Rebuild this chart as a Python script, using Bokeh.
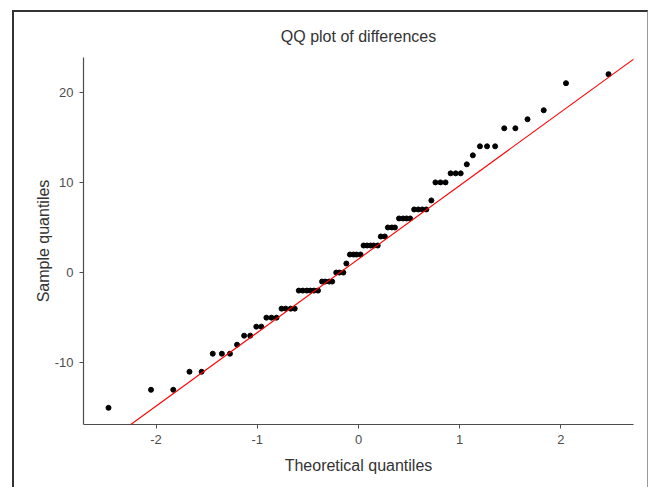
from bokeh.plotting import figure
from bokeh.models import Slope, FixedTicker, Range1d, PrintfTickFormatter, InlineStyleSheet
from bokeh.embed import file_html
from bokeh.resources import INLINE

# Theoretical normal quantiles
theoretical = [
    -2.47, -2.05, -1.83, -1.67, -1.55, -1.44, -1.35, -1.27, -1.20, -1.13,
    -1.07, -1.01, -0.96, -0.91, -0.86, -0.81, -0.76, -0.72, -0.67, -0.63,
    -0.59, -0.55, -0.51, -0.475, -0.44, -0.40, -0.36, -0.33, -0.29, -0.26,
    -0.22, -0.19, -0.15, -0.12, -0.085, -0.05, -0.02,
    0.02, 0.05, 0.085, 0.12, 0.15, 0.19, 0.22, 0.26, 0.29, 0.33,
    0.36, 0.40, 0.44, 0.475, 0.51, 0.55, 0.59, 0.63, 0.67, 0.72,
    0.76, 0.81, 0.86, 0.91, 0.96, 1.01, 1.07, 1.13, 1.20, 1.27,
    1.35, 1.44, 1.55, 1.67, 1.83, 2.05, 2.47,
]
# Sorted sample differences
sample = [
    -15, -13, -13, -11, -11, -9, -9, -9, -8, -7,
    -7, -6, -6, -5, -5, -5, -4, -4, -4, -4,
    -2, -2, -2, -2, -2, -2, -1, -1, -1, -1,
    0, 0, 0, 1, 2, 2, 2,
    2, 3, 3, 3, 3, 3, 4, 4, 5, 5,
    5, 6, 6, 6, 6, 7, 7, 7, 7, 8,
    10, 10, 10, 11, 11, 11, 12, 13, 14, 14,
    14, 16, 16, 17, 18, 21, 22,
]
# Reference line through the quartiles
line_intercept = 1.5
line_slope = 8.155

x_ticks = [-2, -1, 0, 1, 2]
y_ticks = [-10, 0, 10, 20]

FONT = "Liberation Sans"

p = figure(width=650, height=487, output_backend="svg", toolbar_location=None,
           x_range=Range1d(-2.717, 2.717), y_range=Range1d(-16.85, 23.85),
           min_border_left=83, min_border_right=17, min_border_top=57, min_border_bottom=63,
           title="QQ plot of differences")

p.title.align = "center"
p.title.text_font = FONT
p.title.text_font_size = "16px"
p.title.text_font_style = "normal"
p.title.text_color = "#333333"
p.title.standoff = 25

p.scatter(theoretical, sample, size=5, color="black", line_color="black")
p.add_layout(Slope(gradient=line_slope, y_intercept=line_intercept,
                   line_color="red", line_width=1.1))

p.grid.visible = False
p.outline_line_color = None
p.background_fill_color = "white"
p.border_fill_color = "white"

for ax in (p.xaxis[0], p.yaxis[0]):
    ax.axis_line_color = "#4d4d4d"
    ax.axis_line_width = 1.2
    ax.major_tick_line_color = "#4d4d4d"
    ax.major_tick_in = 0
    ax.major_tick_out = 4
    ax.minor_tick_line_color = None
    ax.major_label_text_font = FONT
    ax.major_label_text_font_size = "13px"
    ax.major_label_text_color = "#4d4d4d"
    ax.axis_label_text_font = FONT
    ax.axis_label_text_font_size = "16px"
    ax.axis_label_text_font_style = "normal"
    ax.axis_label_text_color = "#333333"
    ax.formatter = PrintfTickFormatter(format="%d")

p.xaxis.ticker = FixedTicker(ticks=x_ticks)
p.yaxis.ticker = FixedTicker(ticks=y_ticks)
p.xaxis.axis_label = "Theoretical quantiles"
p.yaxis.axis_label = "Sample quantiles"
p.xaxis.major_label_standoff = 6
p.yaxis.major_label_standoff = 6
p.xaxis.axis_label_standoff = 10
p.yaxis.axis_label_standoff = 0

# outer frame of the picture
p.stylesheets = [InlineStyleSheet(css="""
:host { position: relative; }
:host::after {
  content: ""; position: absolute; left: 12px; top: 10px;
  width: 636px; height: 600px;
  border-left: 2px solid #333333; border-top: 2px solid #333333;
  border-right: 1px solid #999999;
  pointer-events: none; box-sizing: border-box;
}
""")]

open("out.html", "w").write(file_html(p, INLINE))
